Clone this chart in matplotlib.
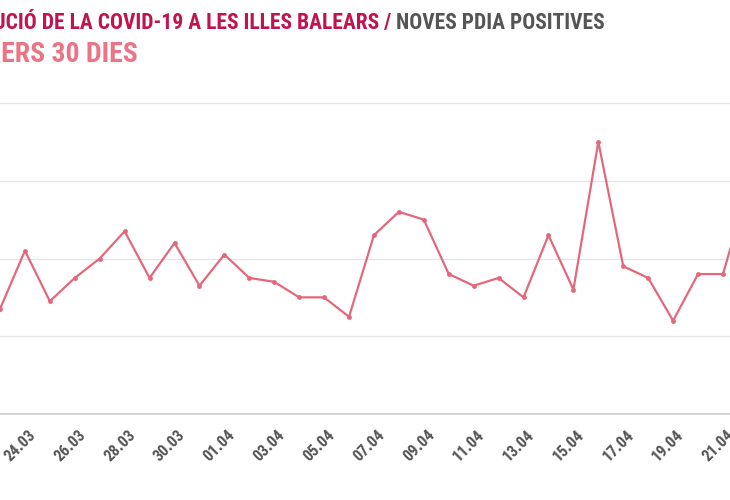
import matplotlib
matplotlib.use("Agg")
import matplotlib.pyplot as plt
import matplotlib.transforms as mtransforms
from matplotlib import font_manager

# new PDIA positives per day, 23.03 .. 22.04
dates = ["23.03", "24.03", "25.03", "26.03", "27.03", "28.03", "29.03", "30.03",
         "31.03", "01.04", "02.04", "03.04", "04.04", "05.04", "06.04", "07.04",
         "08.04", "09.04", "10.04", "11.04", "12.04", "13.04", "14.04", "15.04",
         "16.04", "17.04", "18.04", "19.04", "20.04", "21.04", "22.04"]
positives = [27, 42, 29, 35, 40, 47, 35, 44, 33, 41, 35, 34, 30, 30, 25, 46,
             52, 50, 36, 33, 35, 30, 46, 32, 70, 38, 35, 24, 36, 36, 58]
y_grid = [0, 20, 40, 60, 80]

title_main = "EVOLUCIÓ DE LA COVID-19 A LES ILLES BALEARS /"
title_sub = "NOVES PDIA POSITIVES"
subtitle = "DARRERS 30 DIES"

names = {f.name for f in font_manager.fontManager.ttflist}
FONT = [n for n in ["Roboto Condensed", "Liberation Sans Narrow", "DejaVu Sans"] if n in names]
LINE = "#e3687c"
TXT = dict(family=FONT, fontweight="bold", fontstretch="condensed")

fig = plt.figure(figsize=(7.3, 5), dpi=100)
ax = fig.add_axes([0, 86 / 500, 1, 311 / 500])

x = list(range(len(dates)))
ax.plot(x, positives, color=LINE, lw=1.6, marker="o", ms=3.5,
        markeredgewidth=0, solid_joinstyle="miter")

ax.set_xlim(0, 730 / 24.93)
ax.set_ylim(y_grid[0], y_grid[-1])
ax.set_yticks(y_grid)
ax.yaxis.grid(True, color="#e6e6e6", lw=1)
ax.set_axisbelow(True)
ax.tick_params(axis="y", left=False, labelleft=False)
for s in ["left", "right", "top"]:
    ax.spines[s].set_visible(False)
ax.spines["bottom"].set_color("#cccccc")
ax.spines["bottom"].set_linewidth(1.2)

tick_idx = x[1::2]
ax.set_xticks(tick_idx)
ax.set_xticklabels([dates[i] for i in tick_idx], rotation=45, ha="right",
                   va="top", rotation_mode="anchor", fontsize=11.5,
                   color="#555555", **TXT)
ax.tick_params(axis="x", length=0, pad=9.5)
offset = mtransforms.ScaledTranslation(3 / 100, 0, fig.dpi_scale_trans)
for lab in ax.xaxis.get_majorticklabels():
    lab.set_transform(lab.get_transform() + offset)

fig.text(391 / 730, 1 - 29 / 500, title_main, ha="right", va="baseline",
         fontsize=15.5, color="#c0134f", **TXT)
fig.text(396 / 730, 1 - 29 / 500, title_sub, ha="left", va="baseline",
         fontsize=15.5, color="#555555", **TXT)
fig.text(138 / 730, 1 - 62 / 500, subtitle, ha="right", va="baseline",
         fontsize=20, color="#eb7487", **TXT)

fig.savefig("out.png", dpi=100)
